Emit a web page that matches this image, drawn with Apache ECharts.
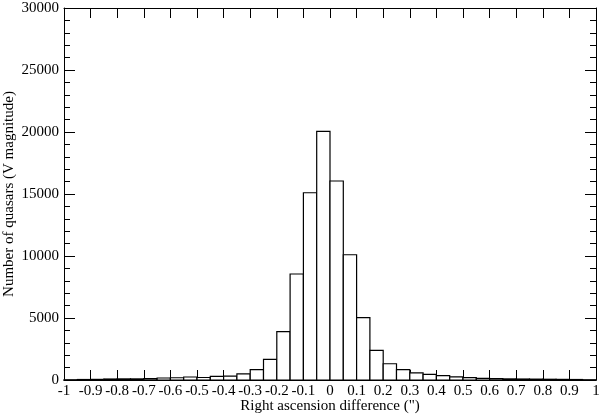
<!DOCTYPE html>
<html>
<head>
<meta charset="utf-8">
<script src="https://cdn.jsdelivr.net/npm/echarts@6/dist/echarts.min.js"></script>
<style>
  html, body { margin: 0; padding: 0; background: #fff; }
  #chart { width: 600px; height: 418px; }
</style>
</head>
<body>
<div id="chart"></div>
<script>
// bin left edges, width 0.05
var binStart = [-1.00, -0.95, -0.90, -0.85, -0.80, -0.75, -0.70, -0.65, -0.60, -0.55,
                -0.50, -0.45, -0.40, -0.35, -0.30, -0.25, -0.20, -0.15, -0.10, -0.05,
                 0.00,  0.05,  0.10,  0.15,  0.20,  0.25,  0.30,  0.35,  0.40,  0.45,
                 0.50,  0.55,  0.60,  0.65,  0.70,  0.75,  0.80,  0.85,  0.90,  0.95];
var binWidth = 0.05;
var counts = [20, 40, 50, 80, 90, 90, 110, 160, 180, 240,
              200, 300, 320, 500, 840, 1660, 3900, 8550, 15100, 20050,
              16050, 10100, 5030, 2390, 1310, 830, 580, 450, 350, 260,
              190, 130, 110, 90, 80, 70, 60, 50, 40, 20];

var xTitle = 'Right ascension difference (")';
var yTitle = 'Number of quasars (V magnitude)';

var font = 'Liberation Serif';

var histData = binStart.map(function (s, i) {
  return [s, s + binWidth, counts[i]];
});

function xAxisDef(pos, showLabel) {
  return {
    type: 'value',
    position: pos,
    min: -1,
    max: 1,
    interval: 0.1,
    axisLine: { show: true, onZero: false, lineStyle: { color: '#000', width: 1 } },
    axisTick: { show: true, inside: true, length: 10, lineStyle: { color: '#000' } },
    axisLabel: {
      show: showLabel,
      margin: 4,
      color: '#000',
      fontFamily: font,
      fontSize: 15,
      formatter: function (v) { return String(parseFloat(v.toFixed(1))); }
    },
    splitLine: { show: false }
  };
}

function yAxisDef(pos, showLabel) {
  return {
    type: 'value',
    position: pos,
    min: 0,
    max: 30000,
    interval: 5000,
    axisLine: { show: true, onZero: false, lineStyle: { color: '#000', width: 1 } },
    axisTick: { show: true, inside: true, length: 11, lineStyle: { color: '#000' } },
    minorTick: { show: true, splitNumber: 5, length: 6, lineStyle: { color: '#000' } },
    axisLabel: {
      show: showLabel,
      margin: 5,
      color: '#000',
      fontFamily: font,
      fontSize: 15,
      formatter: function (v) { return String(v); }
    },
    splitLine: { show: false }
  };
}

var xBottom = xAxisDef('bottom', true);
xBottom.name = xTitle;
xBottom.nameLocation = 'middle';
xBottom.nameGap = 19;
xBottom.nameMoveOverlap = false;
xBottom.nameTextStyle = { color: '#000', fontFamily: font, fontSize: 15 };

var yLeft = yAxisDef('left', true);
yLeft.name = yTitle;
yLeft.nameLocation = 'middle';
yLeft.nameGap = 47;
yLeft.nameMoveOverlap = false;
yLeft.nameTextStyle = { color: '#000', fontFamily: font, fontSize: 15 };

var option = {
  animation: false,
  backgroundColor: '#fff',
  grid: { left: 64, right: 4, top: 8, bottom: 38, containLabel: false, outerBoundsMode: 'none' },
  xAxis: [xBottom, xAxisDef('top', false)],
  yAxis: [yLeft, yAxisDef('right', false)],
  series: [
    {
      type: 'custom',
      xAxisIndex: 0,
      yAxisIndex: 0,
      data: histData,
      renderItem: function (params, api) {
        var p0 = api.coord([api.value(0), api.value(2)]);
        var p1 = api.coord([api.value(1), 0]);
        return {
          type: 'rect',
          shape: { x: p0[0], y: p0[1], width: p1[0] - p0[0], height: p1[1] - p0[1] },
          style: { fill: '#fff', stroke: '#000', lineWidth: 1.2 }
        };
      },
      encode: { x: [0, 1], y: 2 }
    }
  ]
};

var myChart = echarts.init(document.getElementById('chart'));
myChart.setOption(option);
</script>
</body>
</html>
